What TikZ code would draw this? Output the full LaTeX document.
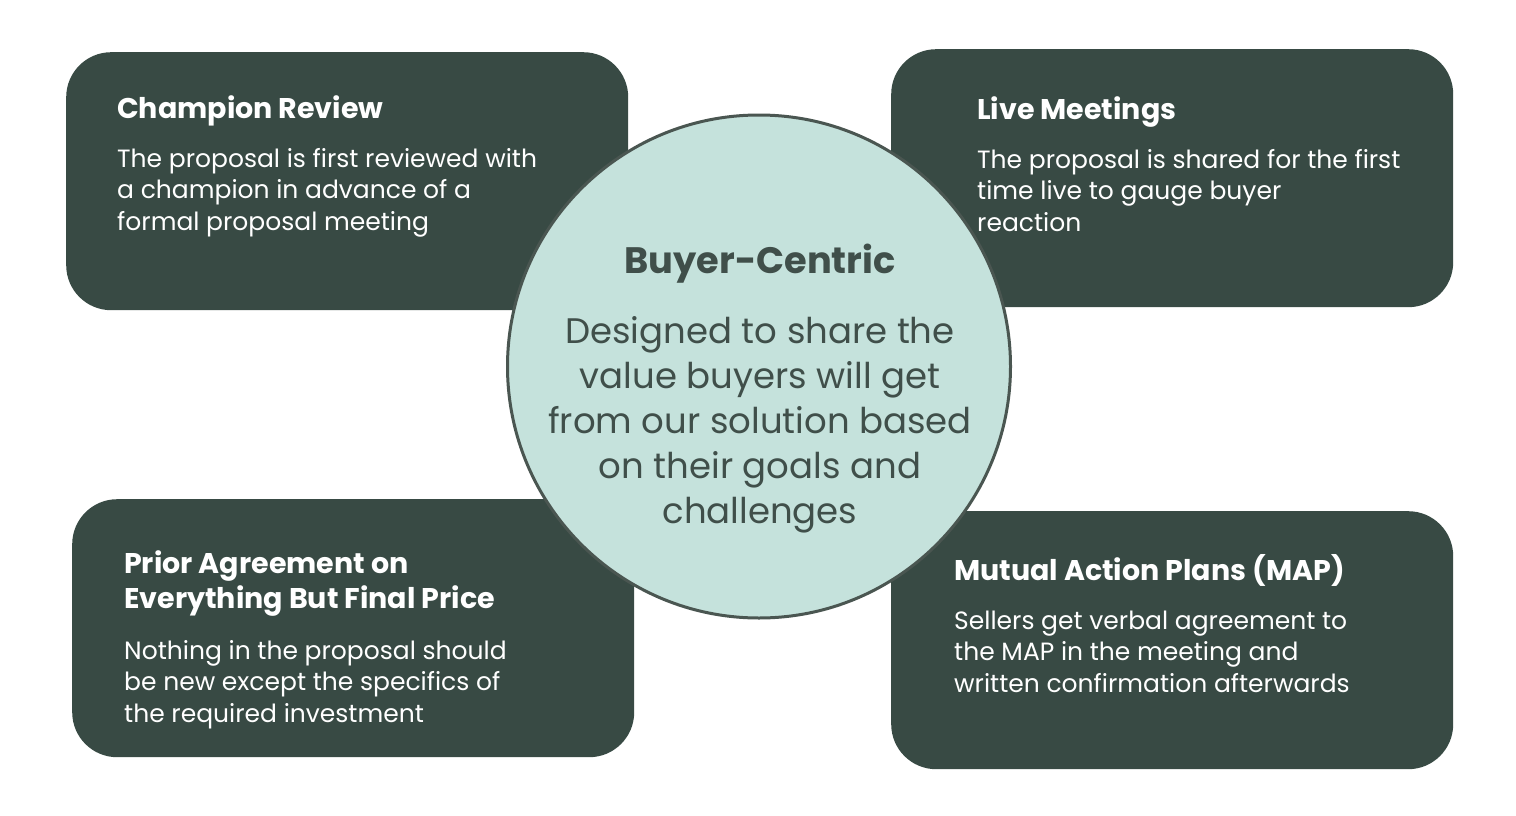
\documentclass[tikz,border=0pt]{standalone}
\usepackage{fontspec}
\setmainfont{Poppins}
\definecolor{boxc}{HTML}{384A44}
\definecolor{circfill}{HTML}{C5E2DC}
\definecolor{circline}{HTML}{4A5651}
\definecolor{circtext}{HTML}{404F4A}
\begin{document}
\begin{tikzpicture}[x=1pt,y=-1pt,
  card/.style={fill=boxc, rounded corners=45pt, minimum width=562pt, minimum height=258pt, anchor=north west, inner sep=0pt},
  ttl/.style={text=white, anchor=base west, align=left, inner sep=0pt, font=\fontsize{28.5}{35}\selectfont\bfseries},
  body/.style={text=white, anchor=base west, align=left, inner sep=0pt, font=\fontsize{25}{31.7}\selectfont},
  ctitle/.style={text=circtext, anchor=base, inner sep=0pt, font=\fontsize{36.8}{45}\selectfont\bfseries},
  cbody/.style={text=circtext, anchor=base, align=center, inner sep=0pt, font=\fontsize{35.5}{45}\selectfont}]
\useasboundingbox (0,0) rectangle (1516,816);
\fill[white] (0,0) rectangle (1516,816);
% boxes
\node[card] (tl) at (66,52) {};
\node[card] (tr) at (891,49) {};
\node[card] (bl) at (72,499) {};
\node[card] (br) at (891,511) {};
% box texts (anchor = baseline of the last line)
\node[ttl] (tlt) at (117,118) {Champion Review};
\node[body] (tlb) at (117,230.4) {The proposal is first reviewed with\\a champion in advance of a\\formal proposal meeting};
\node[ttl] (trt) at (977,119) {Live Meetings};
\node[body] (trb) at (977,231.4) {The proposal is shared for the first\\time live to gauge buyer\\reaction};
\node[ttl] (blt) at (124,608) {Prior Agreement on\\Everything But Final Price};
\node[body] (blb) at (124,722.4) {Nothing in the proposal should\\be new except the specifics of\\the required investment};
\node[ttl] (brt) at (954,580) {Mutual Action Plans (MAP)};
\node[body] (brb) at (954,692.4) {Sellers get verbal agreement to\\the MAP in the meeting and\\written confirmation afterwards};
% circle
\node[circle, fill=circfill, draw=circline, line width=3pt, minimum size=503pt, inner sep=0pt] (c) at (759,366.5) {};
\node[ctitle] (ct) at (760,273) {Buyer-Centric};
\node[cbody] (cb) at (760,523) {Designed to share the\\value buyers will get\\from our solution based\\on their goals and\\challenges};
\end{tikzpicture}
\end{document}
